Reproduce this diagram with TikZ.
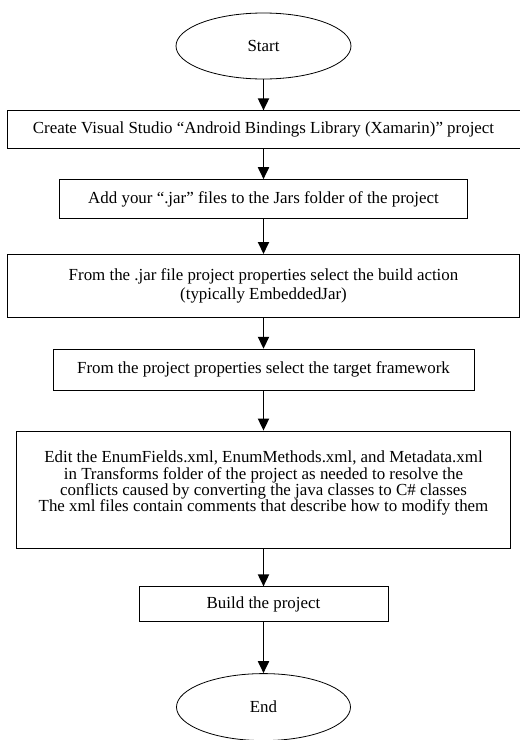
\documentclass[tikz,border=0pt]{standalone}
\usepackage{fontspec}
\setmainfont{Liberation Serif}
\usetikzlibrary{shapes.geometric,arrows.meta,positioning}

\begin{document}
\begin{tikzpicture} [x=1pt, y=1pt,
				terminal/.style={
				% The shape:
				ellipse,
				% The size:
      				minimum width=175pt, minimum height=66pt, inner sep=0pt,
				% The border:
      				draw=black, line width=0.8pt,
				% Font
				font=\fontsize{16.9}{16.9}\selectfont
    				},
				stepbox/.style={
				% The shape:
				rectangle,
				% The size:
      				minimum height=38pt, inner sep=0pt,
				% The border:
      				draw=black, line width=0.8pt,
				% Font
				align=center,
				font=\fontsize{16.9}{16.9}\selectfont
    				},
				flow/.style={
				-{Triangle[width=11pt,length=12pt]}, line width=1.8pt
    				},
				]
    \useasboundingbox (0,0) rectangle (520,-740);
    \node [terminal] (start) at (263.5,-46) {Start};
    \node [stepbox, minimum width=513pt, below=31pt of start] (create)
        {Create Visual Studio “Android Bindings Library (Xamarin)” project};
    \node [stepbox, minimum width=408pt, minimum height=39pt, below=30pt of create] (addjar)
        {Add your “.jar” files to the Jars folder of the project};
    \node [stepbox, minimum width=512pt, minimum height=63pt, below=35pt of addjar,
           font=\fontsize{16.9}{19.5}\selectfont] (action)
        {From the .jar file project properties select the build action\\(typically EmbeddedJar)};
    \node [stepbox, minimum width=421pt, minimum height=41pt, below=31pt of action] (target)
        {From the project properties select the target framework};
    \node [stepbox, minimum width=494pt, minimum height=117pt, below=40pt of target,
           font=\fontsize{16.9}{16.3}\selectfont] (edit)
        {Edit the EnumFields.xml, EnumMethods.xml, and Metadata.xml\\
         in Transforms folder of the project as needed to resolve the\\
         conflicts caused by converting the java classes to C\# classes\\
         The xml files contain comments that describe how to modify them\\ \mbox{}};
    \node [stepbox, minimum width=249pt, minimum height=35pt, below=38pt of edit] (build)
        {Build the project};
    \node [terminal, minimum width=174pt, minimum height=67pt, below=51pt of build] (end)
        {End};

    \draw [flow] (start) -- (create);
    \draw [flow] (create) -- (addjar);
    \draw [flow] (addjar) -- (action);
    \draw [flow] (action) -- (target);
    \draw [flow] (target) -- (edit);
    \draw [flow] (edit) -- (build);
    \draw [flow] (build) -- (end);
\end{tikzpicture}
\end{document}
